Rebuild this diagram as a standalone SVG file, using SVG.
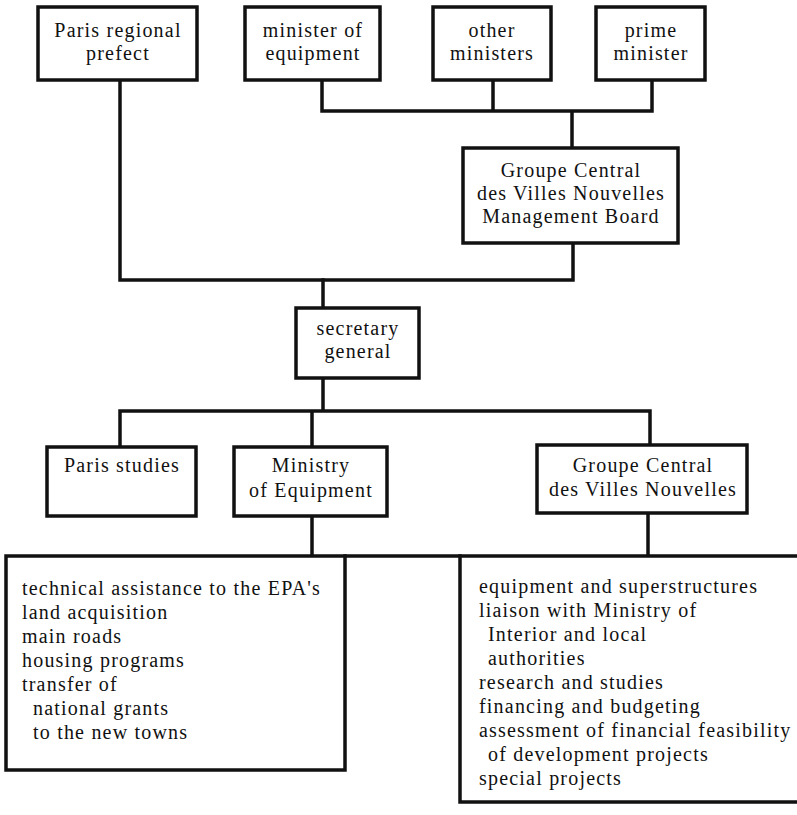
<svg xmlns="http://www.w3.org/2000/svg" width="797" height="815" viewBox="0 0 797 815">
<style>
.box{fill:#fff;stroke:#111;stroke-width:3.5}
.ln{fill:none;stroke:#111;stroke-width:3.5;stroke-linecap:square;stroke-linejoin:miter}
text{font-family:"Liberation Serif","Times New Roman",serif;font-size:20px;fill:#111;letter-spacing:1.2px}
.c{text-anchor:middle}
</style>
<rect width="797" height="815" fill="#fff"/>
<g id="connectors">
<path class="ln" d="M120 80 V280 H573 V243"/>
<path class="ln" d="M322 80 V111 H652 V80 M493 80 V111 M572 111 V148"/>
<path class="ln" d="M323 280 V308"/>
<path class="ln" d="M323 378 V411 M120 411 H650 M120 411 V447 M312 411 V447 M650 411 V445"/>
<path class="ln" d="M312 516 V556 M648 513 V556 M345 556 H460"/>
</g>
<g id="paris-prefect">
<rect class="box" x="38" y="7" width="159" height="73"/>
<text class="c" x="118" y="37">Paris regional</text>
<text class="c" x="118" y="60">prefect</text>
</g>
<g id="minister-equipment">
<rect class="box" x="245" y="7" width="135" height="73"/>
<text class="c" x="313" y="37">minister of</text>
<text class="c" x="313" y="60">equipment</text>
</g>
<g id="other-ministers">
<rect class="box" x="433" y="7" width="118" height="73"/>
<text class="c" x="492" y="37">other</text>
<text class="c" x="492" y="60">ministers</text>
</g>
<g id="prime-minister">
<rect class="box" x="596" y="7" width="109" height="73"/>
<text class="c" x="651" y="37">prime</text>
<text class="c" x="651" y="60">minister</text>
</g>
<g id="gcvn-board">
<rect class="box" x="463" y="148" width="215" height="95"/>
<text class="c" x="571" y="177">Groupe Central</text>
<text class="c" x="571" y="200">des Villes Nouvelles</text>
<text class="c" x="571" y="223">Management Board</text>
</g>
<g id="secretary-general">
<rect class="box" x="296" y="308" width="123" height="70"/>
<text class="c" x="358" y="335">secretary</text>
<text class="c" x="358" y="358">general</text>
</g>
<g id="paris-studies">
<rect class="box" x="47" y="447" width="149" height="69"/>
<text class="c" x="122" y="472">Paris studies</text>
</g>
<g id="ministry-equipment">
<rect class="box" x="234" y="447" width="153" height="69"/>
<text class="c" x="311" y="472">Ministry</text>
<text class="c" x="311" y="497">of Equipment</text>
</g>
<g id="gcvn">
<rect class="box" x="537" y="445" width="210" height="68"/>
<text class="c" x="643" y="472">Groupe Central</text>
<text class="c" x="643" y="496">des Villes Nouvelles</text>
</g>
<g id="ministry-tasks">
<rect class="box" x="6" y="556" width="339" height="214"/>
<text x="22" y="595">technical assistance to the EPA's</text>
<text x="22" y="619">land acquisition</text>
<text x="22" y="643">main roads</text>
<text x="22" y="667">housing programs</text>
<text x="22" y="691">transfer of</text>
<text x="33" y="715">national grants</text>
<text x="33" y="739">to the new towns</text>
</g>
<g id="gcvn-tasks">
<rect class="box" x="460" y="556" width="345" height="246"/>
<text x="479" y="593">equipment and superstructures</text>
<text x="479" y="617">liaison with Ministry of</text>
<text x="488" y="641">Interior and local</text>
<text x="488" y="665">authorities</text>
<text x="479" y="689">research and studies</text>
<text x="479" y="713">financing and budgeting</text>
<text x="479" y="737">assessment of financial feasibility</text>
<text x="488" y="761">of development projects</text>
<text x="479" y="785">special projects</text>
</g>
</svg>
